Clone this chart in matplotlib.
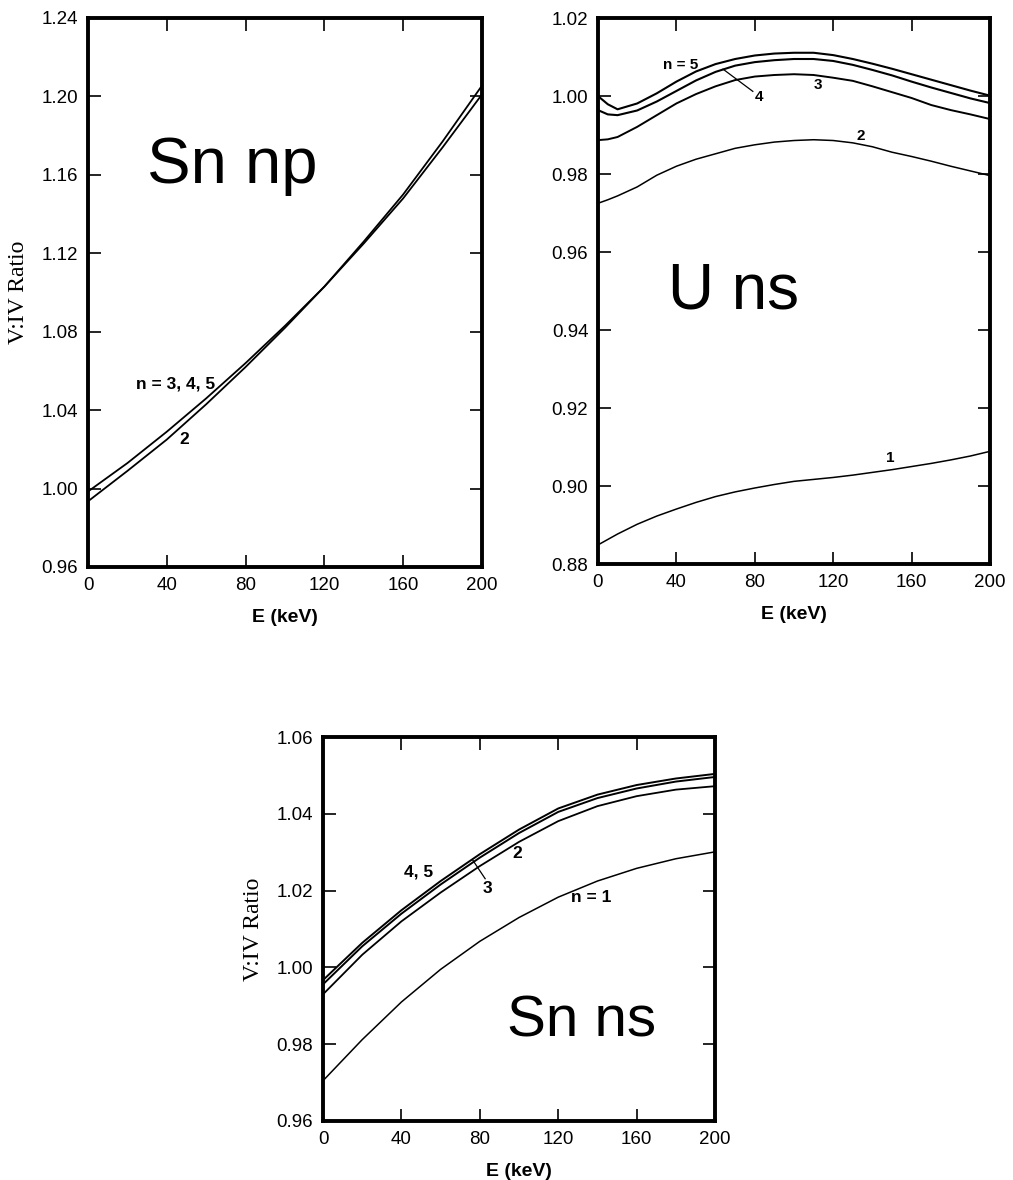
import matplotlib
matplotlib.use("Agg")
import matplotlib.pyplot as plt

# --- Sn np (top left) ---
e_np = [0, 20, 40, 60, 80, 100, 120, 140, 160, 180, 200]
np_345 = [0.9985, 1.0130, 1.0290, 1.0460, 1.0640, 1.0830, 1.1030, 1.1250, 1.1480, 1.1740, 1.2010]
np_2 = [0.9935, 1.0090, 1.0250, 1.0430, 1.0620, 1.0820, 1.1030, 1.1260, 1.1500, 1.1770, 1.2055]

# --- U ns (top right) ---
e_u = [0, 5, 10, 20, 30, 40, 50, 60, 70, 80, 90, 100, 110, 120, 130, 140, 150, 160, 170, 180, 190, 200]
u_5 = [1.0000, 0.9979, 0.9966, 0.9981, 1.0007, 1.0037, 1.0063, 1.0082, 1.0095, 1.0104, 1.0109,
       1.0111, 1.0111, 1.0105, 1.0095, 1.0083, 1.0070, 1.0056, 1.0042, 1.0028, 1.0014, 1.0001]
u_4 = [0.9964, 0.9953, 0.9951, 0.9963, 0.9986, 1.0013, 1.0040, 1.0062, 1.0078, 1.0087, 1.0092,
       1.0095, 1.0095, 1.0090, 1.0080, 1.0067, 1.0053, 1.0037, 1.0022, 1.0008, 0.9994, 0.9982]
u_3 = [0.9887, 0.9889, 0.9895, 0.9921, 0.9951, 0.9981, 1.0005, 1.0025, 1.0041, 1.0050, 1.0054,
       1.0056, 1.0054, 1.0047, 1.0039, 1.0025, 1.0010, 0.9995, 0.9977, 0.9964, 0.9953, 0.9941]
u_2 = [0.9725, 0.9734, 0.9744, 0.9767, 0.9797, 0.9820, 0.9838, 0.9852, 0.9866, 0.9875, 0.9882,
       0.9886, 0.9888, 0.9886, 0.9880, 0.9870, 0.9856, 0.9845, 0.9833, 0.9820, 0.9808, 0.9796]
u_1 = [0.8849, 0.8863, 0.8877, 0.8902, 0.8923, 0.8941, 0.8958, 0.8973, 0.8985, 0.8995, 0.9004,
       0.9012, 0.9017, 0.9022, 0.9028, 0.9035, 0.9042, 0.9050, 0.9058, 0.9067, 0.9077, 0.9089]

# --- Sn ns (bottom) ---
e_ns = [0, 20, 40, 60, 80, 100, 120, 140, 160, 180, 200]
ns_45 = [0.9967, 1.0064, 1.0149, 1.0225, 1.0295, 1.0359, 1.0414, 1.0450, 1.0475, 1.0492, 1.0504]
ns_3 = [0.9956, 1.0055, 1.0140, 1.0216, 1.0286, 1.0350, 1.0405, 1.0441, 1.0466, 1.0484, 1.0496]
ns_2 = [0.9930, 1.0033, 1.0120, 1.0195, 1.0264, 1.0327, 1.0381, 1.0420, 1.0446, 1.0463, 1.0472]
ns_1 = [0.9705, 0.9812, 0.9910, 0.9995, 1.0068, 1.0130, 1.0183, 1.0225, 1.0258, 1.0283, 1.0301]

x_ticks = [0, 40, 80, 120, 160, 200]

SANS = "Liberation Sans"
SERIF = "Liberation Serif"


def styleAxes(ax, ylim, yticks, ylabel=None):
    ax.set_xlim(0, 200)
    ax.set_ylim(*ylim)
    ax.set_xticks(x_ticks)
    ax.set_yticks(yticks)
    ax.set_xticklabels([str(t) for t in x_ticks])
    ax.set_yticklabels(["%.2f" % t for t in yticks])
    for s in ax.spines.values():
        s.set_linewidth(2.8)
    ax.tick_params(direction="in", length=9, width=1.2, top=True, right=True,
                   labelsize=13.5, pad=7)
    for lab in ax.get_xticklabels() + ax.get_yticklabels():
        lab.set_fontfamily(SANS)
    ax.set_xlabel("E (keV)", fontsize=14, fontweight="bold", family=SANS, labelpad=11)
    if ylabel:
        ax.set_ylabel(ylabel, fontsize=17, family=SERIF)
        ax.yaxis.set_label_coords(-0.15, 0.5)


def label(ax, x, y, s, size):
    ax.text(x, y, s, fontsize=size, fontweight="bold", family=SANS,
            ha="center", va="center")


fig = plt.figure(figsize=(10.13, 11.80), dpi=100)

# Sn np
ax1 = fig.add_axes([0.0869, 0.5195, 0.3889, 0.4653])
ax1.plot(e_np, np_345, color="black", lw=1.3)
ax1.plot(e_np, np_2, color="black", lw=1.3)
styleAxes(ax1, (0.96, 1.24), [0.96, 1.00, 1.04, 1.08, 1.12, 1.16, 1.20, 1.24], "V:IV Ratio")
label(ax1, 44.6, 1.0534, "n = 3, 4, 5", 12.5)
label(ax1, 48.9, 1.0248, "2", 12.5)
ax1.text(73, 1.1645, "Sn np", fontsize=47, family=SANS, ha="center", va="center")

# U ns
ax2 = fig.add_axes([0.5903, 0.5220, 0.3870, 0.4627])
for ys, w in [(u_5, 1.5), (u_4, 1.5), (u_3, 1.4), (u_2, 1.1), (u_1, 1.1)]:
    ax2.plot(e_u, ys, color="black", lw=w)
styleAxes(ax2, (0.88, 1.02), [0.88, 0.90, 0.92, 0.94, 0.96, 0.98, 1.00, 1.02])
label(ax2, 42, 1.0080, "n = 5", 11)
ax2.plot([63.8, 79], [1.0069, 1.0012], color="black", lw=0.9)
label(ax2, 82, 0.9997, "4", 11)
label(ax2, 112, 1.0029, "3", 11)
label(ax2, 134, 0.9898, "2", 11)
label(ax2, 149, 0.9071, "1", 11)
ax2.text(69, 0.9499, "U ns", fontsize=46, family=SANS, ha="center", va="center")

# Sn ns
ax3 = fig.add_axes([0.3189, 0.0500, 0.3870, 0.3254])
for ys, w in [(ns_45, 1.4), (ns_3, 1.4), (ns_2, 1.3), (ns_1, 1.1)]:
    ax3.plot(e_ns, ys, color="black", lw=w)
styleAxes(ax3, (0.96, 1.06), [0.96, 0.98, 1.00, 1.02, 1.04, 1.06], "V:IV Ratio")
label(ax3, 48.7, 1.0248, "4, 5", 12.5)
ax3.plot([76.3, 82.7], [1.0280, 1.0231], color="black", lw=0.9)
label(ax3, 84, 1.0205, "3", 12.5)
label(ax3, 99, 1.0296, "2", 12.5)
label(ax3, 136.7, 1.0182, "n = 1", 12.5)
ax3.text(131.7, 0.9859, "Sn ns", fontsize=42, family=SANS, ha="center", va="center")

fig.savefig("out.png", dpi=100, facecolor="white")
